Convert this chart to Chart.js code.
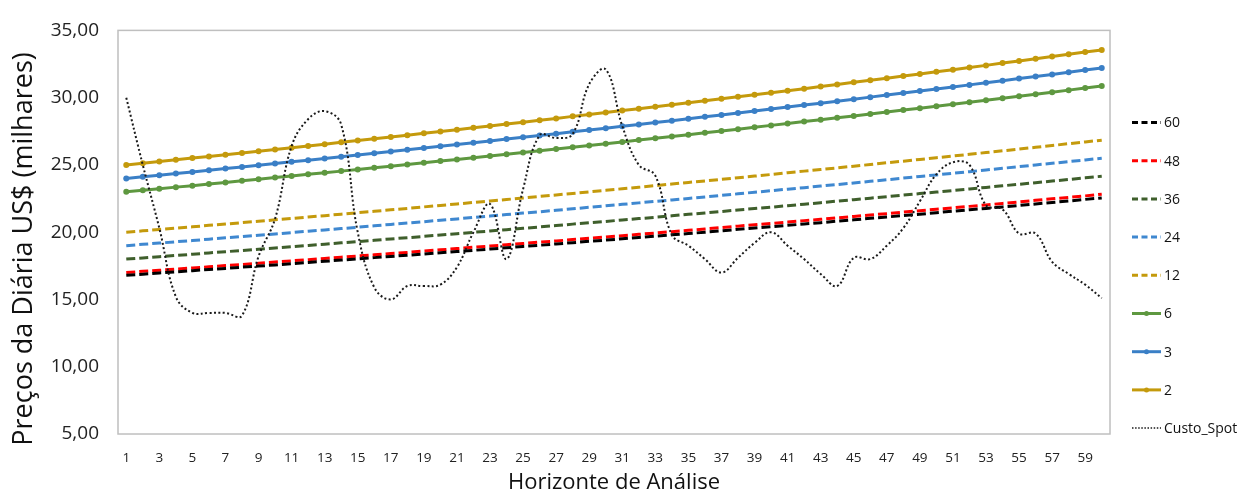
<!DOCTYPE html>
<html>
<head>
<meta charset="utf-8">
<script src="https://cdn.jsdelivr.net/npm/chart.js@4.4.1/dist/chart.umd.min.js"></script>
<style>
  html, body { margin: 0; padding: 0; background: #fff; }
  #wrap { width: 1244px; height: 498px; }
</style>
</head>
<body>
<div id="wrap"><canvas id="c" width="1244" height="498"></canvas></div>
<script>
// Horizonte de análise (meses)
const categories = [1,2,3,4,5,6,7,8,9,10,11,12,13,14,15,16,17,18,19,20,21,22,23,24,25,26,27,28,29,30,
  31,32,33,34,35,36,37,38,39,40,41,42,43,44,45,46,47,48,49,50,51,52,53,54,55,56,57,58,59,60];

// Preço da diária por prazo de contrato (US$ mil)
const serie60 = [16.80,16.88,16.97,17.05,17.14,17.23,17.31,17.40,17.48,17.57,17.66,17.75,17.84,17.93,18.01,
  18.11,18.20,18.29,18.38,18.47,18.56,18.65,18.75,18.84,18.94,19.03,19.13,19.22,19.32,19.41,
  19.51,19.61,19.71,19.81,19.90,20.00,20.10,20.21,20.31,20.41,20.51,20.61,20.71,20.82,20.92,
  21.03,21.13,21.24,21.34,21.45,21.56,21.67,21.77,21.88,21.99,22.10,22.21,22.32,22.44,22.55];
const serie48 = [17.00,17.09,17.17,17.26,17.34,17.43,17.52,17.60,17.69,17.78,17.87,17.96,18.05,18.14,18.23,
  18.32,18.41,18.50,18.60,18.69,18.78,18.88,18.97,19.07,19.16,19.26,19.35,19.45,19.55,19.65,
  19.74,19.84,19.94,20.04,20.14,20.24,20.34,20.45,20.55,20.65,20.75,20.86,20.96,21.07,21.17,
  21.28,21.38,21.49,21.60,21.71,21.81,21.92,22.03,22.14,22.25,22.37,22.48,22.59,22.70,22.82];
const serie36 = [18.00,18.09,18.18,18.27,18.36,18.46,18.55,18.64,18.73,18.83,18.92,19.02,19.11,19.21,19.30,
  19.40,19.50,19.59,19.69,19.79,19.89,19.99,20.09,20.19,20.29,20.39,20.49,20.60,20.70,20.80,
  20.91,21.01,21.11,21.22,21.33,21.43,21.54,21.65,21.76,21.86,21.97,22.08,22.19,22.31,22.42,
  22.53,22.64,22.76,22.87,22.98,23.10,23.21,23.33,23.45,23.56,23.68,23.80,23.92,24.04,24.16];
const serie24 = [19.00,19.10,19.19,19.29,19.38,19.48,19.58,19.67,19.77,19.87,19.97,20.07,20.17,20.27,20.37,
  20.48,20.58,20.68,20.78,20.89,20.99,21.10,21.20,21.31,21.42,21.52,21.63,21.74,21.85,21.96,
  22.07,22.18,22.29,22.40,22.51,22.62,22.74,22.85,22.97,23.08,23.20,23.31,23.43,23.54,23.66,
  23.78,23.90,24.02,24.14,24.26,24.38,24.50,24.63,24.75,24.87,25.00,25.12,25.25,25.37,25.50];
const serie12 = [20.00,20.10,20.20,20.30,20.40,20.51,20.61,20.71,20.81,20.92,21.02,21.13,21.23,21.34,21.45,
  21.55,21.66,21.77,21.88,21.99,22.10,22.21,22.32,22.43,22.54,22.66,22.77,22.88,23.00,23.11,
  23.23,23.34,23.46,23.58,23.70,23.81,23.93,24.05,24.17,24.29,24.42,24.54,24.66,24.78,24.91,
  25.03,25.16,25.28,25.41,25.54,25.66,25.79,25.92,26.05,26.18,26.31,26.44,26.58,26.71,26.84];
const serie6 = [23.00,23.12,23.23,23.35,23.46,23.58,23.70,23.82,23.94,24.06,24.18,24.30,24.42,24.54,24.66,
  24.79,24.91,25.04,25.16,25.29,25.41,25.54,25.67,25.80,25.93,26.05,26.19,26.32,26.45,26.58,
  26.71,26.85,26.98,27.11,27.25,27.39,27.52,27.66,27.80,27.94,28.08,28.22,28.36,28.50,28.64,
  28.79,28.93,29.08,29.22,29.37,29.51,29.66,29.81,29.96,30.11,30.26,30.41,30.56,30.72,30.87];
const serie3 = [24.00,24.12,24.24,24.36,24.48,24.61,24.73,24.85,24.98,25.10,25.23,25.35,25.48,25.61,25.74,
  25.86,25.99,26.12,26.25,26.39,26.52,26.65,26.78,26.92,27.05,27.19,27.32,27.46,27.60,27.73,
  27.87,28.01,28.15,28.29,28.44,28.58,28.72,28.86,29.01,29.15,29.30,29.45,29.59,29.74,29.89,
  30.04,30.19,30.34,30.49,30.64,30.80,30.95,31.11,31.26,31.42,31.57,31.73,31.89,32.05,32.21];
const serie2 = [25.00,25.13,25.25,25.38,25.51,25.63,25.76,25.89,26.02,26.15,26.28,26.41,26.54,26.68,26.81,
  26.94,27.08,27.21,27.35,27.49,27.62,27.76,27.90,28.04,28.18,28.32,28.46,28.61,28.75,28.89,
  29.04,29.18,29.33,29.47,29.62,29.77,29.92,30.07,30.22,30.37,30.52,30.67,30.83,30.98,31.14,
  31.29,31.45,31.61,31.76,31.92,32.08,32.24,32.40,32.57,32.73,32.89,33.06,33.22,33.39,33.55];

// Custo spot observado
const custoSpot = [30.0,25.0,20.3,15.2,14.0,14.0,14.0,13.8,18.2,21.0,26.4,28.4,29.0,28.0,20.0,
  15.9,15.0,16.0,16.0,16.1,17.4,20.0,22.1,18.0,23.2,27.2,27.0,27.3,31.0,32.1,
  27.9,25.0,24.2,19.8,19.0,18.0,17.0,18.1,19.2,20.0,19.0,18.0,16.9,16.0,18.1,
  18.0,19.0,20.3,22.3,24.3,25.2,25.0,22.0,21.7,19.9,19.9,17.8,16.9,16.1,15.1];

// Valores do eixo vertical
const yTicks = [5, 10, 15, 20, 25, 30, 35];

const Y_TITLE = 'Preços da Diária US$ (milhares)';
const FONT = "'Open Sans', 'Noto Sans', sans-serif";
const GOLD = '#C49A0C';
const BLUE = '#3A7FC6';
const GREEN = '#5E9840';
const BLUE_D = '#3F88D0';
const DKGREEN = '#3F5F2C';
const RED = '#FF0000';

function dashed(label, data, color) {
  return {
    label, data, borderColor: color, backgroundColor: color,
    borderWidth: 3, borderDash: [9, 4], pointRadius: 0, tension: 0,
    order: 2, legendKind: 'dash'
  };
}
function marked(label, data, color) {
  return {
    label, data, borderColor: color, backgroundColor: color,
    borderWidth: 3, pointRadius: 3, pointHoverRadius: 3, pointBorderWidth: 0,
    pointBackgroundColor: color, tension: 0, order: 2, legendKind: 'marker'
  };
}

const datasets = [
  dashed('60', serie60, '#000000'),
  dashed('48', serie48, RED),
  dashed('36', serie36, DKGREEN),
  dashed('24', serie24, BLUE_D),
  dashed('12', serie12, GOLD),
  marked('6', serie6, GREEN),
  marked('3', serie3, BLUE),
  marked('2', serie2, GOLD),
  {
    label: 'Custo_Spot', data: custoSpot, borderColor: '#1a1a1a',
    borderWidth: 2, borderDash: [2, 2.4], pointRadius: 0, tension: 0.4,
    order: 0, legendKind: 'dot'
  }
];

// Moldura cinza da área de plotagem
const frame = {
  id: 'frame',
  beforeDatasetsDraw(chart) {
    const { ctx, chartArea: a } = chart;
    ctx.save();
    ctx.strokeStyle = '#BFBFBF';
    ctx.lineWidth = 1.5;
    ctx.strokeRect(a.left, a.top, a.right - a.left, a.bottom - a.top);
    ctx.restore();
  }
};

// Título vertical do eixo Y, centrado na altura da figura
const yTitle = {
  id: 'yTitle',
  afterDraw(chart) {
    const { ctx, height } = chart;
    ctx.save();
    ctx.translate(24, height / 2);
    ctx.rotate(-Math.PI / 2);
    ctx.font = '27px ' + FONT;
    ctx.fillStyle = '#111';
    ctx.textAlign = 'center';
    ctx.textBaseline = 'middle';
    ctx.fillText(Y_TITLE, 0, 0);
    ctx.restore();
  }
};

// Legenda vertical à direita
const sideLegend = {
  id: 'sideLegend',
  afterDraw(chart) {
    const { ctx, chartArea: a } = chart;
    const x0 = a.right + 22, x1 = a.right + 51, tx = a.right + 54;
    const top = 122.5, step = 38.2;
    ctx.save();
    ctx.font = '14px ' + FONT;
    ctx.textBaseline = 'middle';
    ctx.fillStyle = '#111';
    chart.data.datasets.forEach((ds, i) => {
      const y = top + i * step;
      ctx.strokeStyle = ds.borderColor;
      ctx.lineCap = 'butt';
      if (ds.legendKind === 'dash') {
        ctx.lineWidth = 3; ctx.setLineDash([6, 3.5]);
      } else if (ds.legendKind === 'dot') {
        ctx.lineWidth = 1.5; ctx.setLineDash([1.5, 1.6]);
      } else {
        ctx.lineWidth = 3; ctx.setLineDash([]);
      }
      ctx.beginPath(); ctx.moveTo(x0, y); ctx.lineTo(x1, y); ctx.stroke();
      if (ds.legendKind === 'marker') {
        ctx.fillStyle = ds.borderColor;
        ctx.beginPath(); ctx.arc((x0 + x1) / 2, y, 2.5, 0, Math.PI * 2); ctx.fill();
      }
      ctx.setLineDash([]);
      ctx.fillStyle = '#111';
      ctx.fillText(ds.label, tx, y + 1);
    });
    ctx.restore();
  }
};

new Chart(document.getElementById('c'), {
  type: 'line',
  data: { labels: categories, datasets },
  plugins: [frame, yTitle, sideLegend],
  options: {
    responsive: false,
    animation: false,
    devicePixelRatio: 1,
    layout: { padding: { left: 0, right: 134, top: 22, bottom: 0 } },
    plugins: { legend: { display: false }, tooltip: { enabled: false } },
    scales: {
      x: {
        type: 'category',
        offset: true,
        grid: { display: false, drawTicks: false },
        border: { display: false },
        ticks: {
          autoSkip: false, maxRotation: 0, padding: 16,
          color: '#222', font: { family: FONT, size: 13.5 },
          callback: (v, i) => (i % 2 === 0 ? String(categories[i]) : '')
        },
        title: {
          display: true, text: 'Horizonte de Análise', color: '#111',
          font: { family: FONT, size: 22 }, padding: { top: 0, bottom: 2 }
        },
        afterFit(scale) { scale.height = 64; }
      },
      y: {
        min: 5, max: 35,
        grid: { display: false, drawTicks: false },
        border: { display: false },
        afterBuildTicks(scale) { scale.ticks = yTicks.map(v => ({ value: v })); },
        ticks: {
          padding: 19, color: '#222', font: { family: FONT, size: 19 },
          callback: v => v.toFixed(2).replace('.', ',')
        },
        title: { display: false },
        afterFit(scale) { scale.width = 118; }
      }
    }
  }
});
</script>
</body>
</html>
